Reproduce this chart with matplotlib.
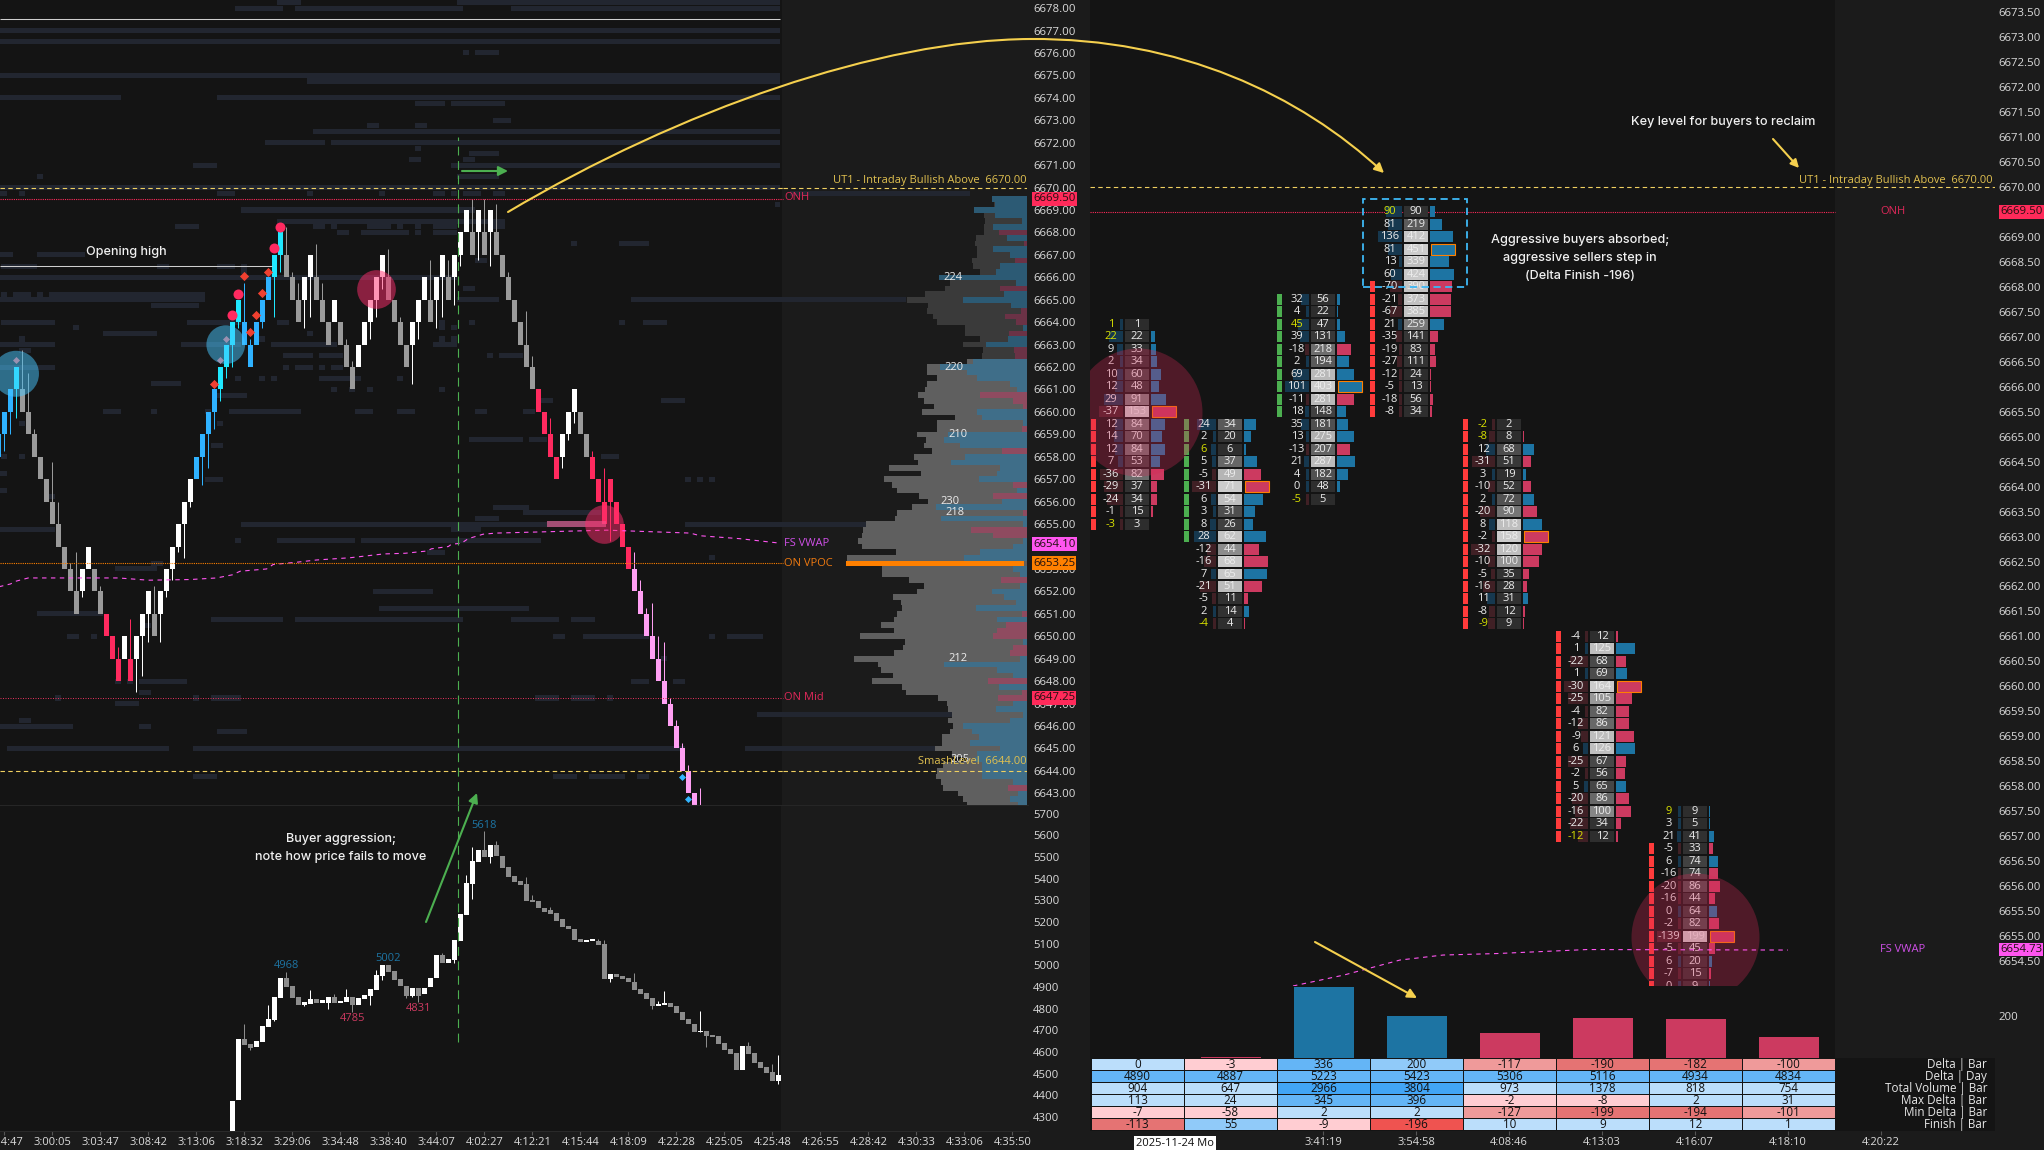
import numpy as np
import matplotlib
matplotlib.use("Agg")
import matplotlib.pyplot as plt
from matplotlib.colors import ListedColormap, BoundaryNorm
from matplotlib.patches import FancyArrowPatch, Rectangle
from matplotlib.path import Path

plt.rcParams['font.family'] = ['Open Sans', 'DejaVu Sans']

W, H = 2044, 1150

# ---------- price candles (1 point range bars), first entry is bar -1
candle_low = [6658,6659,6660,6661,6660,6659,6658,6657,6656,6655,6654,6653,6652,6651,6652,6653,6652,6651,6650,6649,
 6648,6649,6648,6649,6650,6651,6650,6651,6652,6653,6654,6655,6656,6657,6658,6659,6660,6661,6662,6663,6664,6663,6662,
 6663,6664,6665,6666,6667,6666,6665,6664,6665,6666,6665,6664,6663,6664,6663,6662,6661,6662,6663,6664,6665,6666,6665,
 6664,6663,6662,6663,6664,6665,6664,6665,6666,6665,6666,6667,6668,6667,6668,6667,6668,6667,6666,6665,6664,6663,6662,
 6661,6660,6659,6658,6657,6658,6659,6660,6659,6658,6657,6656,6655,6656,6655,6654,6653,6652,6651,6650,6649,6648,6647,
 6646,6645,6644,6643,6642]
candle_kind = ("BBBC" + "G"*10 + "WWGGRRRWRWWWG" + "W"*6 + "BBBBCCCCBBBBBCC" + "GGGWWGGGWGGG" + "WWWWW" + "GGGG" + "WWWGWWGWWWGWGW"
               + "G"*7 + "RRRRWWWGG" + "R"*7 + "P"*11)
wick_bar = [0,1,2,3,4,5,8,9,11,12,13,16,19,21,22,23,24,25,26,27,28,29,30,31,33,34,35,36,37,38,39,40,41,43,45,46,47,48,49,50,
 51,52,53,57,58,61,62,63,64,66,68,69,71,72,73,74,75,76,78,79,80,81,82,84,87,88,91,93,94,95,98,100,101,105,106,107,108,109,
 110,111,112,113,114]
wick_end = [6658.25,6659,6659.75,6662.75,6661.75,6659.25,6657.75,6656,6653.25,6653.75,6651.75,6652.25,6649.5,6650.75,6647.5,
 6648.25,6649.75,6652.25,6649.75,6651.75,6652.5,6653.75,6653.5,6655.75,6656.75,6657.5,6659.25,6660.5,6661.5,6662,6663.75,
 6665.75,6663.25,6663.75,6664.25,6666.25,6668.25,6666.25,6665.75,6663.75,6664.25,6667.5,6665.75,6663.25,6662.25,6663.25,
 6664.25,6665.5,6667.25,6664.25,6661.25,6663.25,6666.75,6663.75,6664.25,6666.75,6664.75,6666.5,6669.5,6666.75,6669.5,6666.5,
 6669.25,6666.25,6664.5,6662.5,6659.75,6657.5,6658.75,6659.5,6658.25,6657.5,6654.25,6653.75,6652.5,6651.25,6651.5,6650,
 6649.75,6647.25,6646.25,6645.25,6644.25]
big_dot_bar = [46, 45, 39, 38]
big_dot_price = [6668.25, 6667.3, 6665.25, 6664.3]
small_dot_bar = [40, 44, 43, 42, 41, 35]
small_dot_price = [6666.05, 6666.25, 6665.3, 6664.3, 6663.55, 6661.25]
gray_dot_bar = [2, 37, 36]
gray_dot_price = [6662.3, 6663.25, 6662.3]
blue_dot_bar = [113, 114]
blue_dot_price = [6643.75, 6642.75]

# ---------- VWAP on the price panel
vwap_bar = [-1,1,2,4,19,24,31,35.4,38,39.3,43.7,44.8,48.7,52,57.6,63.2,66.8,70.4,71.2,74,74.5,76.2,77.3,79.8,82,100.4,114.3,116,122.6,129.3]
vwap_val = [6652.2,6652.33,6652.46,6652.6,6652.6,6652.5,6652.53,6652.6,6652.74,6652.9,6653.0,6653.2,6653.3,6653.4,6653.5,6653.67,
            6653.7,6653.8,6653.9,6654,6654.1,6654.15,6654.35,6654.55,6654.6,6654.73,6654.6,6654.48,6654.35,6654.15]

# ---------- resting liquidity heat map: (price, from, to) in 1/18 bar steps
liq_upper = [(6678.25,831,903),(6678.25,1371,2340),(6678,705,849),(6678,885,1389),(6678,1533,2340),(6677,-20,2340),(6676.5,-20,2340),
 (6676,1389,1407),(6676,1425,1497),(6675,-20,2340),(6674.75,921,2340),(6674,-20,363),(6674,651,2340),(6673.75,1245,1335),
 (6673.75,1353,1515),(6673,1479,1533),(6672.75,1101,1137),(6672.75,1245,1281),(6672.5,939,2340),(6672,795,975),(6672,993,2340),
 (6671.75,1245,1263),(6671.5,1407,1497),(6671.25,1227,1263),(6671.25,1389,1425),(6671,579,651),(6671,1353,2340),(6670.5,111,129),
 (6670.5,1371,1497),(6670,-20,2340),(6669.75,-20,21),(6669.75,57,75),(6669.75,651,705),(6669.75,921,939),(6669.75,1137,1155),
 (6669.75,1299,1335),(6669.75,1353,1371),(6669.75,1389,1443),(6669.75,1479,1515),(6669.75,2370,2910),(6669.25,2325,2340),(6669,723,1425),
 (6668.5,831,1515),(6668.25,525,597),(6668.25,939,975),(6668.25,993,1011),(6668.25,1101,1173),(6668.25,1191,1209),(6668.25,1245,1263),
 (6668.25,1299,1371),(6668.25,1480,1515),(6668,1011,1047),(6668,1083,1227),(6668,1245,1263),(6668,1299,1371),(6667.5,1713,1731),
 (6667.5,1857,1947),(6667,-20,39),(6667,111,255),(6666.75,1425,1461),(6666.5,3,111),(6666.5,471,507),(6666.5,651,705),(6666.5,723,741),
 (6666.25,723,741),(6666,-20,1371)]
liq_middle = [(6665.5,1389,1425),(6665.25,3,21),(6665.25,39,93),(6665.25,111,129),(6665.25,147,615),(6665,-20,615),(6665,1371,1497),
 (6665,1893,2718),(6664.75,453,597),(6664,3,165),(6664,561,723),(6664,831,867),(6664,1317,1335),(6664,1407,1425),(6664,1857,1875),
 (6664,1929,2001),(6663.75,219,237),(6663.75,1317,1335),(6663.75,1353,1371),(6663.5,309,471),(6663.5,921,939),(6663.25,57,75),
 (6663.25,777,795),(6663.25,1317,1335),(6663.25,1353,1371),(6663,-20,165),(6663,543,723),(6663,813,1011),(6663,1299,1371),
 (6662.75,57,93),(6662.5,849,939),(6662.5,957,1029),(6662.5,1461,1479),(6662.5,1497,1569),(6662,-20,165),(6662,849,867),(6662,885,939),
 (6662,957,975),(6662,993,1029),(6661.5,705,723),(6661.5,777,795),(6661.5,813,831),(6661.5,957,1083),(6661.5,1191,1209),(6661.25,453,543),
 (6661,993,1011),(6661,1047,1065),(6661,1101,1119),(6661,1317,1335),(6660.75,651,741),(6660.5,1623,1659),(6660.5,1983,2055),
 (6660,309,363),(6660,453,471),(6660,615,633),(6660,687,903),(6660,1065,1119),(6660,1191,1245),(6660,1425,1461),(6660,1569,1605),
 (6659.5,57,75),(6659.5,651,669),(6658.75,1407,1569),(6658.75,1587,1641),(6658.5,633,669),(6658,3,21),(6658,57,75),(6658,1803,1857),
 (6657.25,-20,21),(6657,615,669),(6657,2055,2073),(6657,2091,2109),(6657,2127,2145)]
liq_lower = [(6656.5,-20,21),(6656.25,147,165),(6655.75,1479,1587),(6655.5,1569,1803),(6655.25,1425,1497),(6655,723,1641),(6655,2055,2598),
 (6654.75,-20,165),(6654.75,1353,1443),(6654.25,705,723),(6654.25,831,1065),(6654.25,1083,1623),(6653.75,1281,1335),(6653.5,2127,2145),
 (6653.25,453,489),(6653,345,471),(6652,1119,1299),(6651.25,1137,1587),(6651,111,309),(6650.75,633,849),(6650.75,885,1389),(6650.75,1533,1677),
 (6650.75,1713,1785),(6650.5,435,453),(6650,201,237),(6650,273,291),(6650,1659,1695),(6650,1749,1947),(6650,2127,2145),(6650,2181,2289),
 (6649,1983,2001),(6648,345,363),(6648,381,399),(6648,417,561),(6648,1893,1947),(6648,2019,2055),(6647.5,417,453),(6647.25,165,183),
 (6647.25,579,597),(6647.25,633,723),(6647.25,1605,1677),(6647.25,1713,1785),(6647.25,1821,1839),(6647,345,417),(6646.5,2271,2856),
 (6646.25,57,93),(6646,-20,219),(6646,417,453),(6645.75,651,741),(6645,21,507),(6645,579,2055),(6645,2235,2805),(6643.75,579,651),
 (6643.75,1659,1731),(6643.75,1767,1875),(6643.75,1911,1947)]

# ---------- volume profile, one row per 0.25 from 6669.50 down
profile_total = [107,100,160,130,127,130,130,154,156,152,150,166,162,142,264,232,247,307,362,297,300,282,272,187,187,142,194,132,137,180,
 301,301,272,302,307,327,310,280,316,217,272,272,332,304,310,287,340,327,415,320,430,407,392,324,297,346,392,397,484,492,497,508,497,394,
 542,544,437,437,354,310,330,402,380,377,390,400,439,400,502,367,374,400,520,447,439,402,466,376,364,268,242,237,225,237,222,232,257,257,
 277,227,182,252,272,274,260,252,207,192,180]
profile_delta = [107,97,160,97,17,102,-84,62,-10,102,52,-37,82,94,264,34,-82,70,194,50,-20,-67,-34,12,-55,57,124,-40,-37,164,
 262,182,152,52,32,-142,-42,-12,152,137,12,-17,237,250,202,-77,187,230,82,92,144,-44,30,-104,77,274,-12,258,12,-170,-102,12,42,142,
 190,0,42,22,-78,22,107,70,35,154,-17,90,-64,-92,-102,12,-42,-52,22,250,92,42,-118,84,-17,-88,42,94,12,52,194,167,144,172,
 82,152,157,137,137,137,42,-58,27,52,27]
profile_label_text = ["224","220","210","230","218","212","205"]
profile_label_price = [6666,6662,6659,6656,6655.5,6649,6644.5]
profile_label_vol = [222,220,207,232,217,207,202]

# ---------- cumulative delta candles
cd_first_bar = 38
cd_high = [4374,4660,4660,4637,4650,4720,4752,4853,4941,4941,4904,4853,4830,4844,4844,4840,4853,4853,4835,4853,4853,4849,4863,4890,4955,5001,
 5001,4973,4937,4904,4895,4895,4895,4941,5047,5047,5029,5116,5236,5379,5481,5531,5531,5555,5555,5504,5453,5412,5389,5375,5301,5296,5264,5255,
 5241,5213,5181,5167,5121,5116,5121,5112,5098,4960,4960,4950,4941,4923,4890,4872,4849,4821,4826,4826,4812,4784,4752,4729,4697,4697,4678,4674,
 4641,4614,4595,4628,4628,4595,4554,4531,4508,4494]
cd_low = [4235,4378,4632,4620,4624,4648,4717,4747,4849,4901,4849,4817,4817,4824,4826,4826,4826,4826,4826,4830,4817,4817,4844,4858,4886,4950,
 4969,4932,4904,4858,4858,4858,4867,4900,4941,5010,5010,5024,5112,5232,5375,5476,5499,5499,5504,5449,5407,5384,5370,5296,5292,5264,5246,5236,
 5204,5176,5167,5116,5107,5107,5112,5093,4937,4937,4946,4937,4923,4886,4867,4844,4812,4812,4817,4807,4780,4747,4729,4692,4692,4674,4669,4637,
 4609,4591,4517,4517,4591,4549,4526,4503,4466,4466]
cd_kind = ("WWGGWWWWWGGGWWGWWGWWGWWW" + "WW" + "GGGG" + "W" + "G" + "WWW" + "G" + "W"*6 + "G" + "W" + "G"*15 + "WW" + "GG" + "W"
           + "G"*7 + "WW" + "G"*5 + "W" + "G"*6 + "W" + "G"*5 + "W")
cd_wick_bar = [40,41,44,45,47,50,51,54,55,57,58,61,62,63,67,68,69,73,75,77,78,78,80,81,82,87,88,91,99,100,101,105,108,109,110,116,117,124,128,129,129]
cd_wick_end = [4729,4610,4816,4742,4970,4812,4886,4798,4867,4889,4785,4817,4978,4932,4849,4852,4831,5056,5009,5416,5545,5305,5619,5472,5573,5407,
 5324,5269,5121,5116,4923,4964,4798,4835,4881,4789,4623,4646,4545,4586,4452]
cd_note_text = ["4968", "5002", "5618", "4785", "4831"]
cd_note_bar = [47, 64, 80, 58, 69]
cd_note_val = [4970, 5005, 5619, 4785, 4831]

# ---------- footprint columns: top price, deltas, volumes, rows with a strip
fp_top = [6667.25, 6665.25, 6667.75, 6669.5, 6665.25, 6661, 6657.5]
fp_delta_1 = [1,22,9,2,10,12,29,-37,12,14,12,7,-36,-29,-24,-1,-3]
fp_vol_1 = [1,22,33,34,60,48,91,153,84,70,84,53,82,37,34,15,3]
fp_delta_2 = [24,2,6,5,-5,-31,6,3,8,28,-12,-16,7,-21,-5,2,-4]
fp_vol_2 = [34,20,6,37,49,71,54,31,26,62,44,68,65,51,11,14,4]
fp_delta_3 = [32,4,45,39,-18,2,69,101,-11,18,35,13,-13,21,4,0,-5]
fp_vol_3 = [56,22,47,131,218,194,281,403,281,148,181,275,207,287,182,48,5]
fp_delta_4 = [90,81,136,81,13,60,-70,-21,-67,21,-35,-19,-27,-12,-5,-18,-8]
fp_vol_4 = [90,219,412,451,339,424,390,373,385,259,141,83,111,24,13,56,34]
fp_delta_5 = [-2,-8,12,-31,3,-10,2,-20,8,-2,-32,-10,-5,-16,11,-8,-9]
fp_vol_5 = [2,8,68,51,19,52,72,90,118,158,120,100,35,28,31,12,9]
fp_delta_6 = [-4,1,-22,1,-30,-25,-4,-12,-9,6,-25,-2,5,-20,-16,-22,-12]
fp_vol_6 = [12,125,68,69,164,105,82,86,121,126,67,56,65,86,100,34,12]
fp_delta_7 = [9,3,21,-5,6,-16,-20,-16,0,-2,-139,-5,6,-7,0]
fp_vol_7 = [9,5,41,33,74,74,86,44,64,82,199,45,20,15,9]
fp_strip_first = [8, 0, 0, 6, 0, 0, 3]
fp_strip_last = [16, 9, 9, 16, 16, 16, 14]
fp_strip_kind = ["r", "g", "g", "r", "r", "r", "r"]
vwap2_pos = [1293, 1344, 1400, 1443, 1497, 1587, 1788]
vwap2_val = [6654.0, 6654.22, 6654.52, 6654.62, 6654.65, 6654.73, 6654.72]

# ---------- volume-delta bars and the statistics table
bar_delta = [0, -3, 336, 200, -117, -190, -182, -100]
table_rows = ["Delta | Bar", "Delta | Day", "Total Volume | Bar", "Max Delta | Bar", "Min Delta | Bar", "Finish | Bar"]
row_delta_bar = [0, -3, 336, 200, -117, -190, -182, -100]
row_delta_day = [4890, 4887, 5223, 5423, 5306, 5116, 4934, 4834]
row_total_vol = [904, 647, 2966, 3804, 973, 1378, 818, 754]
row_max_delta = [113, 24, 345, 396, -2, -8, 2, 31]
row_min_delta = [-7, -58, 2, 2, -127, -199, -194, -101]
row_finish = [-113, 55, -9, -196, 10, 9, 12, 1]
shade_delta_bar = [1, -1, 3, 2, -2, -3, -3, -2]
shade_delta_day = [3, 3, 3, 3, 3, 3, 3, 3]
shade_total_vol = [1, 1, 4, 4, 1, 2, 1, 1]
shade_max_delta = [1, 1, 3, 3, -1, -1, 1, 1]
shade_min_delta = [-1, -1, 1, 1, -2, -3, -3, -2]
shade_finish = [-3, 2, -1, -4, 1, 1, 1, 1]

left_time_labels = ["2:54:47","3:00:05","3:03:47","3:08:42","3:13:06","3:18:32","3:29:06","3:34:48","3:38:40","3:44:07","4:02:27",
                    "4:12:21","4:15:44","4:18:09","4:22:28","4:25:05","4:25:48","4:26:55","4:28:42","4:30:33","4:33:06","4:35:50"]
right_time_labels = ["3:41:19","3:54:58","4:08:46","4:13:03","4:16:07","4:18:10","4:20:22"]

# ---------- styles
BG, BG2, LIQ = "#141414", "#1b1b1b", "#222630"
C_TXT = "#dcdcdc"
BLUE, RED = "#1d74a3", "#cc3a60"
YEL, ORG, MAG, ONRED = "#f0d060", "#ff8000", "#ff55f0", "#ff2a5a"
KIND = {"W":"#ffffff","G":"#9a9a9a","B":"#2fb2ff","C":"#1fe8ff","R":"#ff2a5f","P":"#ff9ff3"}
LAB = "Inter"

fig = plt.figure(figsize=(W/100, H/100), dpi=100, facecolor=BG2)

def px_axes(x0, y0, x1, y1, **kw):
    return fig.add_axes([x0/W, 1-y1/H, (x1-x0)/W, (y1-y0)/H], **kw)

def bar_at(px):
    return (px-4.33)/6

def clean(ax):
    for s in ax.spines.values():
        s.set_visible(False)

def area(px):          # marker area for a diameter in pixels
    return (px*0.72)**2

# ---------- price panel
ax = px_axes(0, 0, 1028, 805, facecolor=BG)
clean(ax)
ax.set_xlim(bar_at(0), bar_at(1028))
ax.set_ylim(6642.48, 6678.36)
ax.axvspan(bar_at(782), bar_at(1028), color=BG2, lw=0, zorder=0)
for rows in (liq_upper, liq_middle, liq_lower):
    r = np.array(rows, float)
    a, b = (r[:, 1]-13)/18, (r[:, 2]-13)/18
    ax.barh(r[:, 0], b-a, left=a, height=0.225, color=LIQ, lw=0, zorder=1)
bars = np.arange(len(candle_low))-1
lows = np.array(candle_low, float)
cols = [KIND[k] for k in candle_kind]
for bk, e in zip(wick_bar, wick_end):
    ax.vlines(bk, e, candle_low[bk+1]+0.5, color=KIND[candle_kind[bk+1]], lw=0.72, zorder=3)
ax.vlines(116, 6642.48, 6643.25, color=KIND["P"], lw=0.72, zorder=3)
ax.bar(bars, 1, bottom=lows, width=5/6, color=cols, lw=0, zorder=4)
ax.plot(vwap_bar, vwap_val, color=MAG, lw=0.8, ls=(0, (4, 4)), zorder=5)
ax.hlines(6677.5, bar_at(0), bar_at(780), color="#cfcfcf", lw=0.75, zorder=5)
ax.hlines(6666.5, bar_at(0), bar_at(272), color="#cfcfcf", lw=0.75, zorder=5)
ax.hlines(6669.5, bar_at(0), bar_at(783), color=ONRED, lw=0.8, ls=(0, (1, 1)), zorder=5)
ax.hlines(6653.25, bar_at(0), bar_at(783), color=ORG, lw=0.8, ls=(0, (1, 1)), zorder=5)
ax.hlines(6647.25, bar_at(0), bar_at(783), color="#e0305a", lw=0.72, ls=(0, (1, 1.5)), zorder=5)
ax.vlines(75.66, 6642.48, 6672.25, color="#4caf50", lw=0.8, ls=(0, (8, 5)), zorder=6)
ax.barh(6655, bar_at(606)-bar_at(547), left=bar_at(547), height=0.24, color="#f070a8", alpha=0.65, lw=0, zorder=6)
ax.scatter(big_dot_bar, big_dot_price, s=area(10), color="#ff2a60", lw=0, zorder=7)
ax.scatter(small_dot_bar, small_dot_price, s=area(6.5), marker="D", color="#f04030", lw=0, zorder=7)
ax.scatter(gray_dot_bar, gray_dot_price, s=area(5), marker="D", color="#9a90b0", lw=0, zorder=9)
ax.scatter(blue_dot_bar, blue_dot_price, s=area(5), marker="D", color="#33b5ff", lw=0, zorder=7)
ax.scatter([1.94, 36.9], [6661.7, 6663.0], s=[area(46), area(38.7)], color=(72/255, 198/255, 1, .5), lw=0, zorder=8)
ax.scatter([61.9, 99.9], [6665.5, 6655.0], s=area(38.7), color=(1, 44/255, 108/255, .5), lw=0, zorder=8)
ax.yaxis.tick_right()
ax.set_yticks(np.arange(6643, 6679))
ax.set_yticklabels([f"{v:.2f}" for v in range(6643, 6679)])
ax.tick_params(axis="y", length=0, pad=3.6, labelsize=8.2, labelcolor=C_TXT)
ax.set_xticks([])

# ---------- volume profile over the price panel
ap = px_axes(783, 0, 1027.3, 805, facecolor="none", zorder=3)
clean(ap)
ap.set_xlim(733, 0)
ap.set_ylim(ax.get_ylim())
levels = 6669.5-0.25*np.arange(len(profile_total))
tot, dlt = np.array(profile_total, float), np.array(profile_delta, float)
dim = levels > 6662.3
ap.barh(levels, tot, height=0.25, color=np.where(dim, "#3a3a3a", "#5f5f5f"), lw=0)
dc = [("#2c5a74" if dm else "#3f6e89") if d > 0 else ("#6b3246" if dm else "#8f4b60") for d, dm in zip(dlt, dim)]
ap.barh(levels, np.abs(dlt), height=0.25, color=dc, lw=0)
poc = 6653.25
ap.barh(poc, tot[levels == poc]-10, left=10, height=0.25, color=ORG, lw=0)
ap.hlines([6670, 6644], 733, 0, color=YEL, lw=0.8, ls=(0, (4, 3)), zorder=5)
for t, p, v in zip(profile_label_text, profile_label_price, profile_label_vol):
    ap.text(v, p, t, color="#ececec", fontsize=8, ha="center", va="center", zorder=6)
ap.set_xticks([]); ap.set_yticks([])
ax.hlines([6670, 6644], bar_at(0), bar_at(783), color=YEL, lw=0.8, ls=(0, (4, 3)), zorder=5)

def tag(axis, price, txt, col):
    axis.annotate(txt, xy=(1, price), xycoords=("axes fraction", "data"), xytext=(3.6, 0), textcoords="offset points",
                  fontsize=8.2, color="#20100f", va="center", ha="left", annotation_clip=False, zorder=20,
                  bbox=dict(boxstyle="square,pad=0.12", fc=col, ec="none"))
tag(ax, 6669.5, "6669.50", ONRED)
tag(ax, 6654.10, "6654.10", MAG)
tag(ax, 6653.25, "6653.25", ORG)
tag(ax, 6647.25, "6647.25", ONRED)

# ---------- cumulative delta panel
ac = px_axes(0, 805, 1028, 1131, facecolor=BG)
clean(ac)
ac.set_xlim(bar_at(0), bar_at(1028))
ac.set_ylim(4236, 5740)
ac.axvspan(bar_at(781), bar_at(1028), color=BG2, lw=0, zorder=0)
cbars = cd_first_bar+np.arange(len(cd_high))
hi, lo = np.array(cd_high, float), np.array(cd_low, float)
ccols = ["#ffffff" if k == "W" else "#8c8c8c" for k in cd_kind]
for bk, e in zip(cd_wick_bar, cd_wick_end):
    i = bk-cd_first_bar
    ac.vlines(bk, e, (hi[i]+lo[i])/2, color=ccols[i], lw=0.72, zorder=3)
ac.bar(cbars, hi-lo, bottom=lo, width=5/6, color=ccols, lw=0, zorder=4)
ac.vlines(75.66, 4647, 5740, color="#4caf50", lw=0.8, ls=(0, (8, 5)), zorder=6)
for t, b, v in zip(cd_note_text, cd_note_bar, cd_note_val):
    up = t in ("4968", "5002", "5618")
    ac.annotate(t, xy=(b, v), xytext=(0, 0.5 if up else -1), textcoords="offset points", fontsize=8, ha="center",
                va="bottom" if up else "top", color=BLUE if up else RED)
ac.yaxis.tick_right()
ac.set_yticks(np.arange(4300, 5701, 100))
ac.tick_params(axis="y", length=0, pad=3.6, labelsize=8.2, labelcolor=C_TXT)
ac.set_xticks(np.arange(len(left_time_labels))*8)
ac.set_xticklabels(left_time_labels)
ac.tick_params(axis="x", length=3, width=0.8, color="#555555", pad=1.5, labelsize=8, labelcolor=C_TXT)
ac.spines["bottom"].set_visible(True)
ac.spines["bottom"].set_color("#2a2a2a")
ac.spines["top"].set_visible(True)
ac.spines["top"].set_color("#262626")

# ---------- footprint panel
af = px_axes(1090, 0, 1995, 986, facecolor=BG2)
clean(af)
af.set_xlim(1090, 1995)
af.set_ylim(6654.0, 6673.744)
af.axvspan(1090, 1835, color=BG, lw=0, zorder=0)
af.hlines(6669.5, 1090, 1835, color=ONRED, lw=0.8, ls=(0, (1, 1)), zorder=1)
af.hlines(6670, 1090, 1995, color=YEL, lw=0.8, ls=(0, (4, 3)), zorder=1)
af.plot(vwap2_pos, vwap2_val, color=MAG, lw=0.8, ls=(0, (4, 4)), zorder=6)

def cell_gray(r):
    g = np.interp(r, [0, .3, .45, .6, .7, 1], [0x2c, 0x34, 0x50, 0x80, 0xbb, 0xcc])/255
    return (g, g, g)

columns = [(fp_delta_1, fp_vol_1), (fp_delta_2, fp_vol_2), (fp_delta_3, fp_vol_3), (fp_delta_4, fp_vol_4),
           (fp_delta_5, fp_vol_5), (fp_delta_6, fp_vol_6), (fp_delta_7, fp_vol_7)]
rh = 0.22
for c, (dl, vl) in enumerate(columns):
    x0 = 1091+93*c
    dmax, vmax = max(abs(d) for d in dl), max(vl)
    for i, (d, v) in enumerate(zip(dl, vl)):
        p = fp_top[c]-0.25*i
        if fp_strip_first[c] <= i <= fp_strip_last[c]:
            af.barh(p, 5, left=x0, height=rh, color="#ff3b3b" if fp_strip_kind[c] == "r" else "#4caf50", lw=0, zorder=2)
        w = max(3, 24*abs(d)/dmax)
        af.barh(p, w, left=x0+32-w, height=rh, color="#16384f" if d >= 0 else "#402025", lw=0, zorder=2)
        af.barh(p, 24, left=x0+34, height=rh, color=cell_gray(v/vmax), lw=0, zorder=2)
        ismax = v == vmax
        af.barh(p, 25*v/vmax-(1 if ismax else 0), left=x0+60+(0.5 if ismax else 0), height=rh, color=BLUE if d >= 0 else RED,
                edgecolor=ORG if ismax else "none", lw=0.8 if ismax else 0, zorder=2)
        yel = abs(d) >= 0.95*v
        af.text(x0+20, p, str(d), color="#d8e000" if yel else "#ececec", fontsize=8, ha="center", va="center", zorder=3, clip_on=True)
        af.text(x0+46, p, str(v), color="#ececec", fontsize=8, ha="center", va="center", zorder=3, clip_on=True)
af.scatter([1137.5, 1695], [6665.5, 6654.98], s=area(128), color=(217/255, 40/255, 87/255, .3), lw=0, zorder=5)
af.add_patch(Rectangle((1363, 6668.0), 104, 1.75, fill=False, ec="#3db8f5", lw=1.3, ls=(0, (4, 2.5)), zorder=7))
af.yaxis.tick_right()
rt = np.arange(6654.5, 6673.6, 0.5)
af.set_yticks(rt)
af.set_yticklabels([f"{v:.2f}" for v in rt])
af.tick_params(axis="y", length=0, pad=2.5, labelsize=8.2, labelcolor=C_TXT)
af.set_xticks([])
tag(af, 6669.5, "6669.50", ONRED)
tag(af, 6654.73, "6654.73", MAG)

# ---------- delta bars
av = px_axes(1090, 986, 1995, 1058, facecolor=BG2)
clean(av)
av.set_xlim(1090, 1995)
av.set_ylim(0, 340)
av.axvspan(1090, 1835, color=BG, lw=0, zorder=0)
centers = 1137.5+93*np.arange(len(bar_delta))
dd = np.array(bar_delta, float)
av.bar(centers, np.abs(dd), width=60, color=[BLUE if v >= 0 else RED for v in dd], lw=0, zorder=2)
av.yaxis.tick_right()
av.set_yticks([200])
av.tick_params(axis="y", length=0, pad=2.5, labelsize=8.2, labelcolor=C_TXT)
av.set_xticks([])

# ---------- table
at = px_axes(1090, 1058, 1995, 1131, facecolor=BG)
clean(at)
at.set_xlim(1090, 1995)
at.set_ylim(6.05, 0)
shades = np.array([shade_delta_bar, shade_delta_day, shade_total_vol, shade_max_delta, shade_min_delta, shade_finish])
values = np.array([row_delta_bar, row_delta_day, row_total_vol, row_max_delta, row_min_delta, row_finish])
cmap = ListedColormap(["#ef5350", "#e57373", "#ef9a9a", "#ffcdd2", "#bbdefb", "#90caf9", "#64b5f6", "#42a5f5"])
norm = BoundaryNorm([-4.5, -3.5, -2.5, -1.5, 0, 1.5, 2.5, 3.5, 4.5], cmap.N)
at.pcolormesh(1091+93*np.arange(9), np.arange(7), shades, cmap=cmap, norm=norm, edgecolors="#141414", linewidth=0.7)
for r in range(6):
    for c in range(8):
        at.text(1137.5+93*c, r+0.5, str(values[r, c]), color="#111111", fontsize=8.4, ha="center", va="center")
    at.text(1987, r+0.5, table_rows[r], color="#e8e8e8", fontsize=8.4, ha="right", va="center")
at.set_yticks([])
at.set_xticks(1323+93*np.arange(len(right_time_labels)))
at.set_xticklabels(right_time_labels)
at.tick_params(axis="x", length=3, width=0.8, color="#555555", pad=1.5, labelsize=8, labelcolor=C_TXT)

# ---------- annotation overlay, in screen pixels
ov = px_axes(0, 0, W, H, facecolor="none", zorder=10)
ov.set_xlim(0, W); ov.set_ylim(H, 0); ov.axis("off")

def arrow(p0, p1, col, lw=1.5, ms=14):
    ov.annotate("", xy=p1, xytext=p0, arrowprops=dict(arrowstyle="-|>", color=col, lw=lw, mutation_scale=ms, shrinkA=0, shrinkB=0))

curve = Path([(508, 212), (680, 110), (880, 40), (1030, 39), (1180, 38), (1300, 95), (1384, 173)],
             [Path.MOVETO, Path.CURVE4, Path.CURVE4, Path.CURVE4, Path.CURVE4, Path.CURVE4, Path.CURVE4])
ov.add_patch(FancyArrowPatch(path=curve, arrowstyle="-|>", mutation_scale=14, color="#f5d04e", lw=1.5, transform=ov.transData))
arrow((1315, 942), (1417, 998), "#f5d04e")
arrow((1773, 139), (1799, 168), "#f5d04e", ms=12)
arrow((462, 171), (508, 171), "#4caf50", ms=14)
arrow((426, 922), (477, 793), "#4caf50", ms=14)

def note(x, y, s, **kw):
    ov.text(x, y, s, color="#f0f0f0", fontsize=9.1, family=LAB, fontweight="medium", ha="center", va="center", **kw)
note(126, 252, "Opening high")
note(341, 839, "Buyer aggression;")
note(341, 857, "note how price fails to move")
note(1723, 122, "Key level for buyers to reclaim")
note(1580, 240, "Aggressive buyers absorbed;")
note(1580, 258, "aggressive sellers step in")
note(1580, 276, "(Delta Finish -196)")

def side(x, y, s, col, ha="left"):
    ov.text(x, y, s, color=col, fontsize=8.0, ha=ha, va="center")
side(1027, 180, "UT1 - Intraday Bullish Above  6670.00", "#e0c050", "right")
side(1027, 762, "SmashLevel  6644.00", "#e0c050", "right")
side(1993, 180, "UT1 - Intraday Bullish Above  6670.00", "#e0c050", "right")
side(784, 197, "ONH", "#e0285a")
side(784, 544, "FS VWAP", "#d050e8")
side(784, 563, "ON VPOC", "#f07a10")
side(784, 697, "ON Mid", "#e0285a")
side(1893, 212, "ONH", "#e0285a", "center")
side(1903, 949, "FS VWAP", "#d050e8", "center")
ov.text(1175, 1143.5, "2025-11-24 Mo", color="#111111", fontsize=8, ha="center", va="center",
        bbox=dict(boxstyle="square,pad=0.15", fc="white", ec="none"))

fig.savefig("out.png", dpi=100, facecolor=fig.get_facecolor())
